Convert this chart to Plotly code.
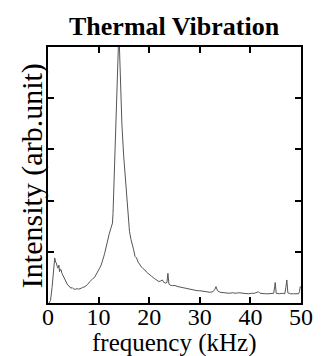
import plotly.graph_objects as go

freq = [0.2, 0.5, 0.8, 1.1, 1.33, 1.5, 1.65, 1.8, 1.97, 2.15, 2.28, 2.45, 2.6, 2.75, 2.9,
        3.2, 3.5, 3.7, 3.9, 4.2, 4.5, 4.8, 5.1, 5.4, 5.8, 6.1, 6.4, 6.8, 7.3, 7.8,
        8.3, 8.6, 8.9, 9.2, 9.5, 9.9, 10.2, 10.5, 10.8, 11.0, 11.2, 11.5, 11.8, 12.1,
        12.4, 12.74, 12.85, 13.0, 13.2, 13.37, 13.55, 13.69, 13.85, 14.0, 14.15, 14.32,
        14.6, 14.96, 15.3, 15.59, 15.9, 16.1, 16.4, 16.7, 16.9, 17.2, 17.5, 17.8, 18.1,
        18.5, 18.8, 19.1, 19.5, 20.0, 20.5, 21.0, 21.4, 21.9, 22.3, 22.6, 22.9, 23.2,
        23.5, 23.7, 23.9, 24.1, 24.6, 25.1, 25.7, 26.2, 26.8, 27.2, 27.6, 28.2, 28.8,
        29.5, 30.0, 30.6, 31.0, 31.4, 32.0, 32.6, 33.0, 33.2, 33.5, 34.0, 34.6, 35.2,
        35.8, 36.5, 37.0, 37.7, 38.4, 39.0, 39.6, 40.2, 40.8, 41.3, 41.6, 41.9, 42.5,
        43.0, 43.5, 44.0, 44.6, 44.8, 44.9, 45.1, 45.7, 46.3, 46.8, 47.0, 47.2, 47.4,
        47.9, 48.5, 49.0, 49.5, 49.7, 49.85, 50.0]
intensity = [0.0, 0.05, 0.3, 0.75, 0.88, 0.8, 0.78, 0.72, 0.68, 0.74, 0.61, 0.66, 0.65, 0.58, 0.55,
             0.5, 0.45, 0.42, 0.35, 0.33, 0.29, 0.3, 0.27, 0.27, 0.28, 0.27, 0.29, 0.3, 0.32, 0.36,
             0.42, 0.46, 0.48, 0.5, 0.55, 0.61, 0.68, 0.74, 0.82, 0.9, 0.97, 1.1, 1.27, 1.35,
             1.45, 1.56, 1.75, 2.2, 2.9, 3.39, 3.8, 4.18, 4.8, 5.3, 4.9, 4.18,
             3.5, 2.87, 2.4, 2.02, 1.56, 1.4, 1.24, 1.15, 1.05, 0.91, 0.88, 0.8, 0.75,
             0.7, 0.67, 0.65, 0.6, 0.55, 0.52, 0.48, 0.46, 0.42, 0.43, 0.45, 0.4, 0.39,
             0.4, 0.58, 0.37, 0.35, 0.34, 0.34, 0.32, 0.31, 0.29, 0.29, 0.27, 0.26, 0.25,
             0.24, 0.24, 0.23, 0.23, 0.22, 0.21, 0.22, 0.27, 0.32, 0.24, 0.21, 0.2, 0.2,
             0.19, 0.2, 0.19, 0.2, 0.19, 0.19, 0.18, 0.19, 0.19, 0.21, 0.22, 0.19, 0.18,
             0.18, 0.18, 0.18, 0.19, 0.32, 0.4, 0.19, 0.18, 0.19, 0.18, 0.3, 0.45, 0.2,
             0.18, 0.18, 0.18, 0.18, 0.22, 0.32, 0.3]

x_ticks = [0, 10, 20, 30, 40, 50]
y_ticks = [1, 2, 3, 4]

title_text = "Thermal Vibration"
x_title = "frequency (kHz)"
y_title = "Intensity (arb.unit)"

FONT = "Liberation Serif, Times New Roman, serif"
L, R, T, B = 48, 311, 47, 303
W, H = 325, 356

fig = go.Figure(go.Scatter(x=freq, y=intensity, mode="lines",
                           line=dict(color="#555555", width=1), hoverinfo="skip"))

fig.update_layout(
    width=W, height=H,
    margin=dict(l=L, r=W - R, t=T, b=H - B),
    paper_bgcolor="white", plot_bgcolor="white",
    showlegend=False,
    font=dict(family=FONT, color="black"),
    xaxis=dict(range=[0, 50], tickvals=x_ticks, ticks="inside", ticklen=6, tickwidth=2,
               tickcolor="black", showline=True, linewidth=2, linecolor="black", mirror="ticks",
               showgrid=False, zeroline=False, ticklabelstandoff=-9,
               tickfont=dict(size=24, family=FONT, color="black")),
    yaxis=dict(range=[0, 5], tickvals=y_ticks, ticks="inside", ticklen=6, tickwidth=2,
               tickcolor="black", showline=True, linewidth=2, linecolor="black", mirror="ticks",
               showgrid=False, zeroline=False, showticklabels=False),
    annotations=[
        dict(text="<b>" + title_text + "</b>", xref="paper", yref="paper",
             x=0.5, y=1 + (T - 26) / (B - T), xanchor="center", yanchor="middle",
             showarrow=False, font=dict(size=26, family=FONT, color="black")),
        dict(text=x_title, xref="paper", yref="paper",
             x=(179 - L) / (R - L), y=-(343 - B) / (B - T), xanchor="center", yanchor="middle",
             showarrow=False, font=dict(size=25, family=FONT, color="black")),
        dict(text=y_title, textangle=-90, xref="paper", yref="paper",
             x=(31 - L) / (R - L), y=1 - (175.5 - T) / (B - T), xanchor="center", yanchor="middle",
             showarrow=False, font=dict(size=30, family=FONT, color="black")),
    ],
)

fig.write_html("out.html", config={"displayModeBar": False},
               post_script="document.body.style.margin='0';")
